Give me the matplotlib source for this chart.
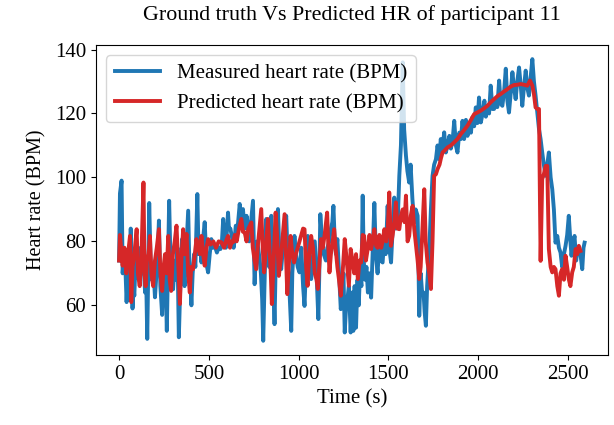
import matplotlib
matplotlib.use("Agg")
import matplotlib.pyplot as plt

plt.rcParams['font.family'] = ['Liberation Serif', 'DejaVu Serif']
plt.rcParams['font.size'] = 15

# measured heart rate (time in s, BPM)
t_meas = [0, 5, 14, 20, 28, 35, 42, 50, 58, 65, 70, 75, 80, 85, 92, 100, 110, 120, 128, 135,
          145, 150, 157, 162, 168, 175, 182, 190, 200, 208, 215, 222, 230, 240, 248, 255, 260, 266, 272, 279,
          286, 293, 301, 310, 318, 325, 333, 340, 351, 358, 365, 375, 385, 392, 398, 403, 410, 418, 425, 436,
          443, 450, 459, 465, 470, 477, 485, 490, 496, 505, 514, 522, 533, 545, 555, 565, 572, 580, 588, 595,
          607, 612, 620, 630, 638, 644, 650, 660, 672, 680, 690, 700, 710, 718, 725, 735, 746, 755, 762, 770,
          783, 790, 797, 803, 810, 820, 828, 836, 848, 855, 860, 866, 872, 878, 885, 892, 903, 910, 920, 931,
          940, 948, 959, 965, 977, 985, 995, 1005, 1015, 1025, 1033, 1041, 1051, 1060, 1070, 1080, 1090, 1100, 1110, 1116,
          1121, 1130, 1140, 1152, 1160, 1170, 1180, 1188, 1194, 1200, 1208, 1216, 1225, 1235, 1243, 1250, 1257, 1265, 1272, 1280,
          1290, 1298, 1305, 1312, 1320, 1328, 1335, 1342, 1350, 1357, 1363, 1370, 1378, 1386, 1395, 1404, 1412, 1422, 1430, 1440,
          1450, 1458, 1468, 1476, 1485, 1496, 1505, 1515, 1524, 1533, 1542, 1552, 1561, 1570, 1580, 1588, 1598, 1606, 1616, 1624,
          1634, 1644, 1652, 1663, 1668, 1672, 1680, 1688, 1696, 1702, 1709, 1716, 1722, 1728, 1737, 1746, 1755, 1765, 1774, 1783,
          1792, 1800, 1811, 1820, 1830, 1840, 1848, 1857, 1867, 1876, 1885, 1895, 1904, 1913, 1922, 1932, 1941, 1950, 1960, 1968,
          1978, 1987, 1996, 2005, 2015, 2025, 2035, 2043, 2052, 2061, 2070, 2080, 2089, 2098, 2107, 2117, 2126, 2135, 2145, 2154,
          2163, 2172, 2181, 2191, 2200, 2209, 2218, 2228, 2237, 2246, 2255, 2265, 2274, 2283, 2292, 2302, 2311, 2320, 2330, 2339,
          2348, 2357, 2366, 2376, 2385, 2394, 2404, 2413, 2422, 2431, 2441, 2450, 2459, 2468, 2478, 2487, 2496, 2505, 2514, 2520,
          2528, 2537, 2546, 2555, 2561, 2570, 2580, 2587, 2593]
hr_meas = [74, 95, 99, 70, 76, 72, 61, 72, 68, 84, 70, 59, 66, 63, 74, 72, 68, 78, 70, 75,
           64, 72, 49.5, 68, 92, 75, 68, 73, 62.5, 70, 76, 86.5, 66, 57, 70, 64, 68, 52, 70, 92.7,
           75, 70, 65, 74, 68, 78, 50, 64, 80.7, 72, 66, 78, 89.6, 72, 66, 60, 70, 76, 72, 94.8,
           76, 80, 73.4, 78, 82, 86, 76, 72, 70.3, 76, 80.7, 78, 78.6, 76.5, 78, 77.6, 79, 87, 80, 78,
           89, 84, 84, 81, 78, 80.7, 84.9, 84, 91.7, 86, 90.1, 84, 88, 84.9, 80, 86, 92.7, 66.6, 76, 80,
           74.4, 70, 62, 48.9, 66, 87, 78, 72, 88, 74, 66, 54.1, 72, 80, 90.1, 78, 71.3, 76, 82, 88,
           74, 66, 52, 70, 81.7, 76, 72, 70.3, 78, 66, 59.8, 72, 81.7, 76, 68.2, 74, 80, 70, 55.7, 72,
           88.5, 80, 76, 74, 78, 79.7, 84, 86, 91.1, 82, 76, 80.7, 70, 58.8, 64, 70, 51.5, 60, 62, 66,
           51.5, 64, 52, 66, 53, 68, 60, 70, 66, 94.3, 74, 68, 72, 64, 70, 62.4, 76, 92, 76, 70,
           80, 74, 73.4, 80, 76, 91.1, 78, 73.4, 84, 93.7, 84, 85.9, 100.5, 110, 136, 115, 106.8, 102, 98.4, 104,
           93.2, 85.9, 90, 88, 72, 56.7, 70, 64, 64, 58, 53.6, 66, 72, 77.6, 90, 100.5, 104, 105.7, 110, 105.7,
           112, 108, 114.1, 107.8, 110, 113, 109, 111, 117.7, 110, 107.8, 114, 112, 117.7, 112, 118, 113, 117, 114, 118.8,
           116, 121.9, 117, 125, 117.2, 120, 124, 119, 122.4, 120, 128.7, 121.4, 121.4, 124, 122, 130.3, 123, 122.4, 127, 134,
           124, 120.3, 126, 132.9, 128, 124.5, 130, 134.4, 129, 122.4, 128, 133.4, 128, 125.6, 131, 137, 130, 125.6, 120, 115.1,
           112, 107.8, 104, 100.5, 104, 107.8, 100, 96.3, 90, 79.6, 81.7, 78, 76.5, 72, 76, 78.6, 82, 88, 80, 75.5,
           79, 81.7, 74, 78, 77.6, 76, 71.3, 78, 79.6]

# predicted heart rate (time in s, BPM)
t_pred = [0, 5, 12, 20, 30, 40, 50, 61, 68, 75, 85, 98, 105, 115, 124, 136, 142, 148, 155, 164,
          172, 180, 190, 200, 210, 222, 230, 240, 248, 256, 265, 274, 282, 290, 300, 310, 320, 330, 339, 347,
          357, 366, 376, 385, 394, 402, 412, 422, 431, 440, 450, 459, 468, 477, 487, 496, 510, 525, 540, 555,
          570, 585, 595, 607, 618, 628, 635, 645, 655, 668, 681, 690, 700, 710, 720, 737, 745, 755, 764, 772,
          782, 792, 800, 808, 818, 829, 838, 845, 851, 858, 865, 872, 880, 890, 900, 912, 922, 930, 937, 945,
          955, 965, 975, 985, 995, 1005, 1015, 1025, 1033, 1042, 1050, 1060, 1070, 1080, 1090, 1100, 1107, 1115, 1125, 1135,
          1145, 1159, 1166, 1172, 1180, 1190, 1198, 1206, 1216, 1225, 1235, 1245, 1257, 1265, 1280, 1290, 1300, 1310, 1320, 1330,
          1340, 1348, 1357, 1365, 1375, 1385, 1395, 1404, 1412, 1422, 1432, 1440, 1450, 1460, 1468, 1478, 1488, 1497, 1505, 1514,
          1524, 1533, 1542, 1551, 1561, 1570, 1580, 1590, 1598, 1607, 1616, 1625, 1635, 1644, 1654, 1663, 1672, 1680, 1690, 1700,
          1708, 1718, 1728, 1737, 1746, 1755, 1765, 1774, 1785, 1793, 1802, 1815, 1830, 1848, 1867, 1885, 1904, 1922, 1941, 1960,
          1978, 1996, 2015, 2033, 2052, 2070, 2089, 2107, 2126, 2145, 2163, 2181, 2200, 2218, 2237, 2255, 2274, 2289, 2302, 2311,
          2320, 2330, 2339, 2348, 2357, 2366, 2376, 2385, 2394, 2404, 2413, 2422, 2431, 2441, 2450, 2459, 2468, 2478, 2487, 2496,
          2505, 2514, 2524, 2533, 2543, 2552, 2561, 2570]
hr_pred = [74, 82, 77.6, 72.4, 78, 70, 76, 81.7, 61, 72, 76, 83.8, 70, 66, 74, 98.4, 70, 66, 74, 76,
           81.7, 70, 66, 74, 78, 83.8, 70, 64.5, 72, 76, 70, 81.7, 68, 64.5, 76, 80, 84.9, 72, 60.4, 74,
           83.8, 76, 82.3, 70, 64, 72, 71.3, 76, 80.7, 78, 76, 81.7, 76, 72.4, 78, 80.7, 79, 80, 78, 80,
           79.7, 78, 80, 81.7, 78, 80, 79.7, 82, 80, 84, 87, 83, 82.8, 80, 84, 85.9, 78, 74, 71.3, 78,
           84, 90.1, 78, 70.3, 78, 87, 78, 70, 60.4, 70, 80, 89, 82, 69.2, 74, 82, 88.5, 75, 63.5, 72,
           81.7, 76, 73.4, 76, 78, 80, 82, 84, 83.8, 72, 66.1, 76, 81.7, 78, 70, 68, 65.1, 72, 80.7, 78,
           82, 89, 78, 70.3, 76, 80, 83.8, 78, 72, 68, 63, 70, 80.7, 76, 66.1, 77.6, 74, 70, 76, 68.2,
           74, 73.4, 82, 81.7, 74, 77.6, 82, 77.6, 80, 83.8, 78.6, 78, 82, 78, 80, 83.8, 80, 84, 95.3, 78.6,
           82, 86, 92.2, 84, 83.8, 88, 90, 86, 94.3, 80, 81.7, 88, 91.1, 84, 78.6, 74, 68.2, 72, 84, 96.3,
           80, 73.4, 70, 65.1, 80, 100.5, 101, 102.6, 104, 106, 107.8, 108.5, 109.4, 110, 111, 112, 113.6, 114.8, 116.2, 118,
           119.8, 120.3, 120.9, 121.6, 122.4, 123.5, 124.5, 125.4, 126.1, 126.9, 127.6, 128.4, 128.9, 129, 129.2, 129, 128.7, 130.3, 128.7, 126,
           121.9, 121.4, 121.4, 73.9, 99.5, 101, 103.6, 103.6, 77.6, 72, 70.3, 72, 71.3, 66, 63, 70, 71.3, 68, 75.5, 72,
           68.2, 66, 70.3, 72, 77.6, 76, 78.6, 77]

fig, ax = plt.subplots(figsize=(6.14, 4.25), dpi=100)
fig.subplots_adjust(left=0.156, right=0.99, top=0.894, bottom=0.165)

ax.plot(t_meas, hr_meas, color='#1f77b4', linewidth=2.8, label='Measured heart rate (BPM)')
ax.plot(t_pred, hr_pred, color='#d62728', linewidth=2.8, label='Predicted heart rate (BPM)')

ax.set_xlabel('Time (s)')
ax.set_ylabel('Heart rate (BPM)', fontsize=14.5, labelpad=6)
ax.set_title('Ground truth Vs Predicted HR of participant 11', fontsize=15.8, pad=18)
ax.legend(loc='upper left', fontsize=15, handlelength=2.2)

plt.savefig('out.png', dpi=100)
